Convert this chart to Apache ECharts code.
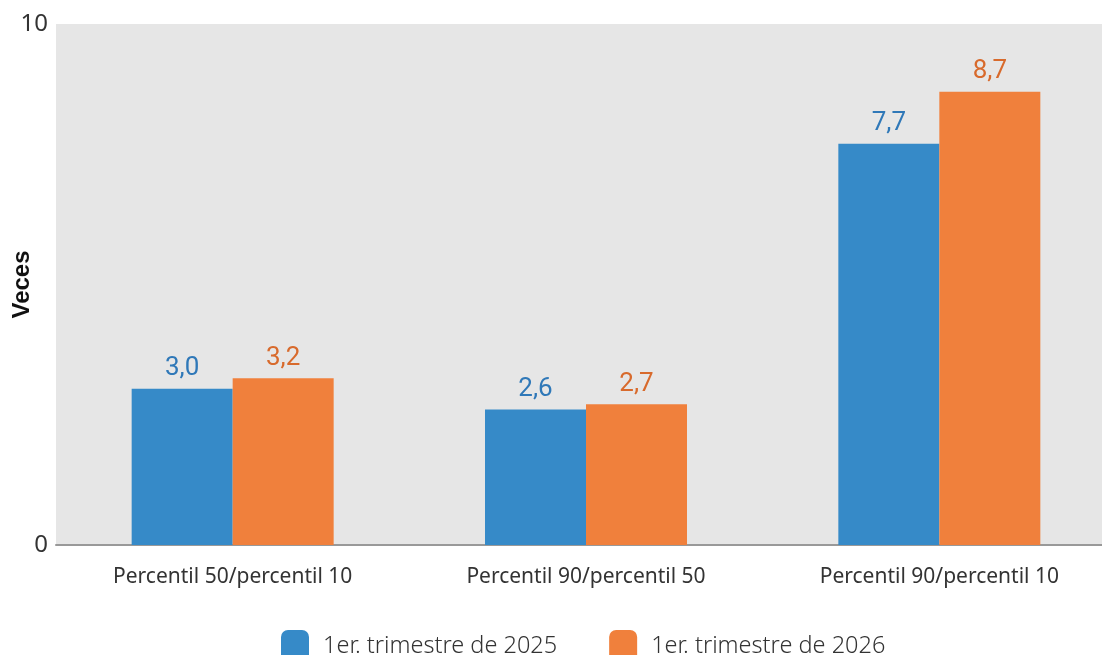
<!DOCTYPE html>
<html><head><meta charset="utf-8">
<script src="https://cdn.jsdelivr.net/npm/echarts@6/dist/echarts.min.js"></script>
<style>html,body{margin:0;padding:0;background:#fff}#c{width:1102px;height:655px}</style>
</head><body><div id="c"></div>
<script>
const categories = ['Percentil 50/percentil 10', 'Percentil 90/percentil 50', 'Percentil 90/percentil 10'];
const series2025 = [3.0, 2.6, 7.7];
const series2026 = [3.2, 2.7, 8.7];
const seriesNames = ['1er. trimestre de 2025', '1er. trimestre de 2026'];

const chart = echarts.init(document.getElementById('c'));
const fmt = p => p.value.toFixed(1).replace('.', ',');
const labelFont = "Roboto, sans-serif";
chart.setOption({
  animation: false,
  grid: { left: 56, right: -14, top: 24, bottom: 110, show: true, backgroundColor: '#e6e6e6', borderWidth: 0, outerBoundsMode: 'none', containLabel: false },
  legend: {
    top: 625, left: 276, itemWidth: 28, itemHeight: 32, itemGap: 52,
    icon: 'roundRect',
    textStyle: { fontFamily: 'Noto Sans', fontSize: 23.5, color: '#333', fontWeight: 300, padding: [0,0,0,9] },
    data: seriesNames
  },
  xAxis: {
    type: 'category', data: categories,
    axisLine: { lineStyle: { color: '#999', width: 2 } },
    axisTick: { show: false },
    axisLabel: { fontFamily: 'Noto Sans', fontSize: 21, color: '#333', margin: 22 }
  },
  yAxis: {
    type: 'value', min: 0, max: 10, interval: 10,
    name: 'Veces', nameLocation: 'middle', nameGap: 22, nameMoveOverlap: false,
    nameTextStyle: { fontFamily: 'Liberation Sans', fontWeight: 'bold', fontSize: 24, color: '#111' },
    splitLine: { show: false },
    axisLine: { show: false }, axisTick: { show: false },
    axisLabel: { fontFamily: 'Noto Sans', fontSize: 24, color: '#333', margin: 8 }
  },
  series: [
    { name: seriesNames[0], type: 'bar', data: series2025, barWidth: 101, barGap: '0%',
      itemStyle: { color: '#368ac8' },
      label: { show: true, position: 'top', distance: 7, formatter: fmt, color: '#2f78b8',
        fontFamily: labelFont, fontSize: 26 } },
    { name: seriesNames[1], type: 'bar', data: series2026, barWidth: 101,
      itemStyle: { color: '#f0803c' },
      label: { show: true, position: 'top', distance: 7, formatter: fmt, color: '#d86a2c',
        fontFamily: labelFont, fontSize: 26 } }
  ]
});
</script></body></html>
